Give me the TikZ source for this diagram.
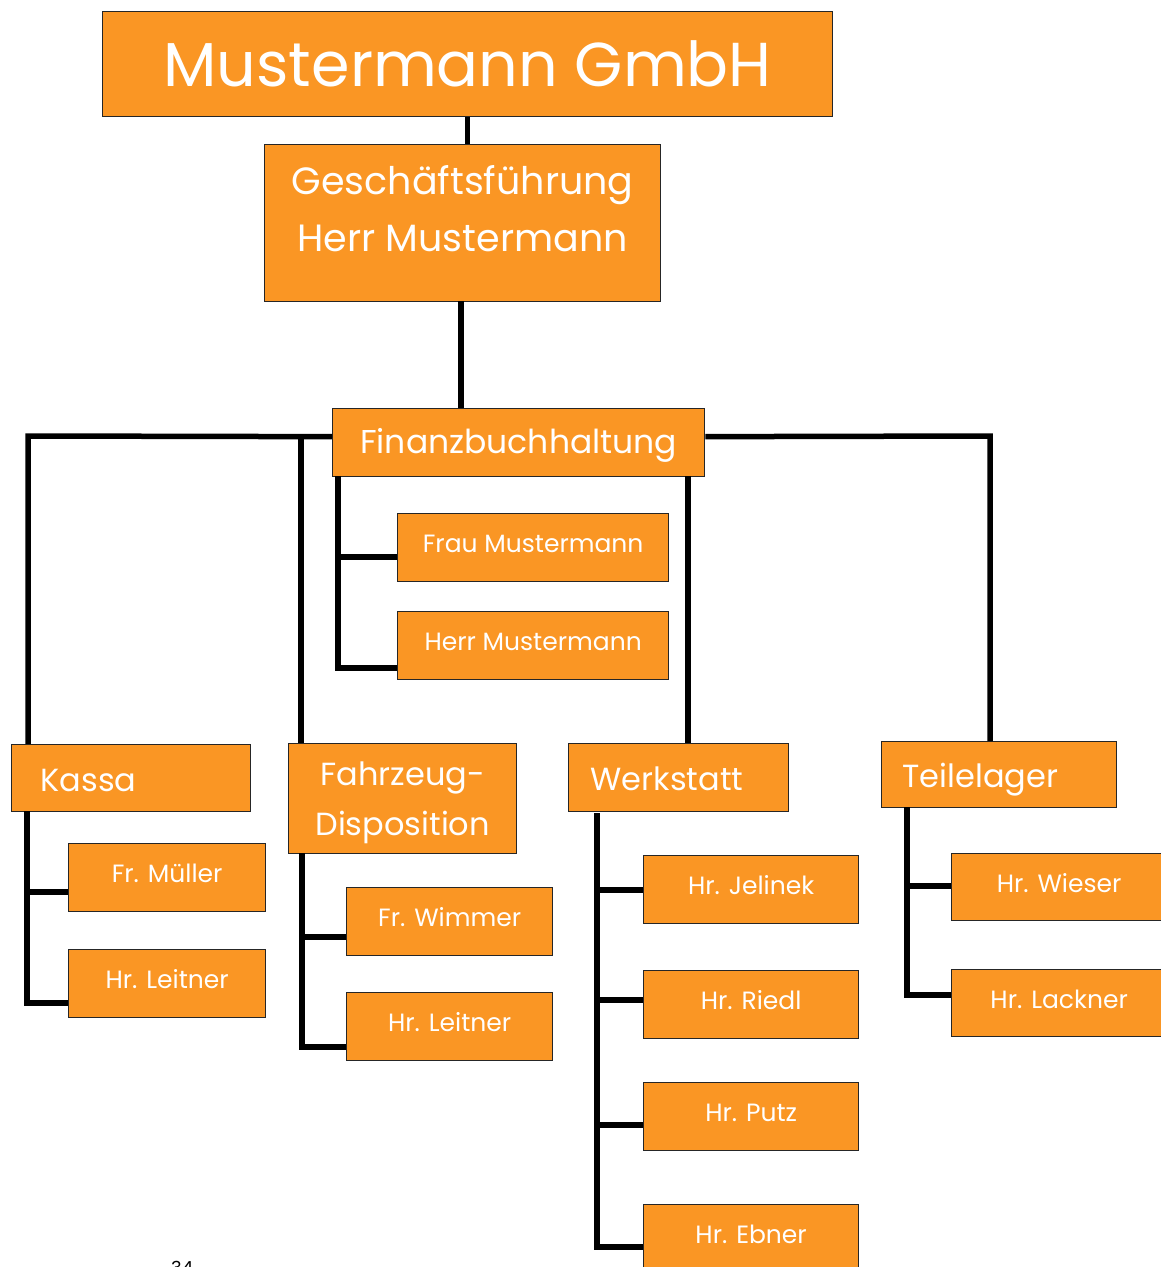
\documentclass[tikz,border=0pt]{standalone}
\usepackage{fontspec}
\setmainfont{Poppins}
\definecolor{boxorange}{RGB}{250,150,36}
\begin{document}
\begin{tikzpicture}[x=1pt,y=-1pt,
  box/.style={draw=black!85, line width=1.3pt, fill=boxorange, text=white, rectangle, inner sep=0pt, anchor=north west},
  child/.style={box, minimum height=68pt, font=\fontsize{25}{28}\selectfont, text height=20pt, text depth=10pt},
  head/.style={box, font=\fontsize{32}{44}\selectfont, text height=30pt, text depth=4pt},
  conn/.style={line width=5.5pt, line join=miter, black}]
\useasboundingbox (0,0) rectangle (1161,1267);
\clip (0,0) rectangle (1161,1267);

% main boxes
\node[box, minimum width=730pt, minimum height=105pt, font=\fontsize{62}{70}\selectfont] (top) at (102,11) {Mustermann GmbH};
\node[box, minimum width=396pt, minimum height=157pt, align=center, font=\fontsize{38}{57}\selectfont, text depth=30pt] (gf) at (264,144) {Geschäftsführung\\Herr Mustermann};
\node[box, minimum width=372pt, minimum height=68pt, font=\fontsize{33}{40}\selectfont, text height=28pt, text depth=6pt, xshift=-3pt] (fb) at (335,408) {Finanzbuchhaltung};
\node[child, minimum width=271pt] (fm) at (397,513) {Frau Mustermann};
\node[child, minimum width=271pt] (hm) at (397,611) {Herr Mustermann};

% department heads
\node[head, minimum width=239pt, minimum height=67pt, text width=181pt, align=left] (ka) at (11,744) {Kassa};
\node[box, minimum width=228pt, minimum height=110pt, align=center, font=\fontsize{32}{50}\selectfont, text depth=-4pt] (fz) at (288,743) {Fahrzeug-\\Disposition};
\node[head, minimum width=220pt, minimum height=68pt, text width=176pt, align=left] (ws) at (568,743) {Werkstatt};
\node[head, minimum width=235pt, minimum height=66pt, text width=193pt, align=left] (tl) at (881,741) {Teilelager};

% staff
\node[child, minimum width=197pt] (ka1) at (68,843) {Fr. Müller};
\node[child, minimum width=197pt] (ka2) at (68,949) {Hr. Leitner};
\node[child, minimum width=206pt] (fz1) at (346,887) {Fr. Wimmer};
\node[child, minimum width=206pt] (fz2) at (346,992) {Hr. Leitner};
\node[child, minimum width=215pt] (ws1) at (643,855) {Hr. Jelinek};
\node[child, minimum width=215pt] (ws2) at (643,970) {Hr. Riedl};
\node[child, minimum width=215pt] (ws3) at (643,1082) {Hr. Putz};
\node[child, minimum width=215pt] (ws4) at (643,1204) {Hr. Ebner};
\node[child, minimum width=215pt, minimum height=67pt] (tl1) at (951,853) {Hr. Wieser};
\node[child, minimum width=215pt, minimum height=67pt] (tl2) at (951,969) {Hr. Lackner};

% page number (cut off at the lower edge, as in the reference)
\node[anchor=north west, inner sep=0pt, font=\fontsize{18}{20}\selectfont, text=black] (pg) at (171,1261) {34};

% coordinates
\coordinate (hl) at (28,436);
\coordinate (hr) at (990,436);
\coordinate (fzT) at (301,436);
\coordinate (wsT) at (688,476);
\coordinate (fbL) at (338,476);
\coordinate (fbB1) at (338,557);
\coordinate (fbB2) at (338,668);
\coordinate (kaT) at (27,811);
\coordinate (kaB1) at (27,892);
\coordinate (kaB2) at (27,1003);
\coordinate (fzS) at (302,853);
\coordinate (fzB1) at (302,937);
\coordinate (fzB2) at (302,1047);
\coordinate (wsS) at (597,813);
\coordinate (wsB1) at (597,890);
\coordinate (wsB2) at (597,1000);
\coordinate (wsB3) at (597,1125);
\coordinate (wsB4) at (597,1247);
\coordinate (tlS) at (907,807);
\coordinate (tlB1) at (907,886);
\coordinate (tlB2) at (907,995);
\coordinate (gfB) at (461,301);

% connectors
\draw[conn] (top.south) -- (top.south |- gf.north);
\draw[conn] (gfB) -- (gfB |- fb.north);
\draw[conn] ([yshift=6pt]fb.west) -- (hl) -- (hl |- ka.north);
\draw[conn] (fzT) -- (fzT |- fz.north);
\draw[conn] (wsT) -- (wsT |- ws.north);
\draw[conn] ([yshift=6pt]fb.east) -- (hr) -- (hr |- tl.north);

\draw[conn] (fbL) -- (fbB2) -- (fbB2 -| hm.west);
\draw[conn] (fbB1) -- (fbB1 -| fm.west);

\draw[conn] (kaT) -- (kaB2) -- (kaB2 -| ka2.west);
\draw[conn] (kaB1) -- (kaB1 -| ka1.west);

\draw[conn] (fzS) -- (fzB2) -- (fzB2 -| fz2.west);
\draw[conn] (fzB1) -- (fzB1 -| fz1.west);

\draw[conn] (wsS) -- (wsB4) -- (wsB4 -| ws4.west);
\draw[conn] (wsB1) -- (wsB1 -| ws1.west);
\draw[conn] (wsB2) -- (wsB2 -| ws2.west);
\draw[conn] (wsB3) -- (wsB3 -| ws3.west);

\draw[conn] (tlS) -- (tlB2) -- (tlB2 -| tl2.west);
\draw[conn] (tlB1) -- (tlB1 -| tl1.west);
\end{tikzpicture}
\end{document}
